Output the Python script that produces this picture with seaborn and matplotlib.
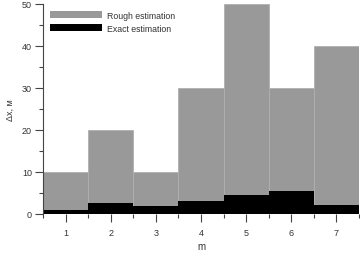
import matplotlib
matplotlib.use("Agg")
import matplotlib.pyplot as plt
import seaborn as sns
import pandas as pd
from matplotlib.patches import Patch
from matplotlib.ticker import MultipleLocator, FixedLocator

m_labels = ["1", "2", "3", "4", "5", "6", "7"]
rough = [10, 20, 10, 30, 50, 30, 40]
exact = [1.0, 2.7, 2.0, 3.1, 4.6, 5.4, 2.2]

sns.set_style("ticks")
plt.rcParams['font.family'] = ['Liberation Sans', 'DejaVu Sans']

df = pd.DataFrame({"m": m_labels, "rough": rough, "exact": exact})

fig = plt.figure(figsize=(3.6, 2.55), dpi=100)
ax = fig.add_axes([43/360, 1-215/255, (359-43)/360, (215-5)/255])

sns.barplot(data=df, x="m", y="rough", color="#999999", saturation=1,
            width=1.0, edgecolor="#b0b0b0", linewidth=0.6, ax=ax)
sns.barplot(data=df, x="m", y="exact", color="#000000", saturation=1,
            width=1.0, linewidth=0, ax=ax)

ax.set_xlim(-0.5, len(m_labels) - 0.5)
ax.set_ylim(0, 50)
ax.yaxis.set_major_locator(MultipleLocator(10))
ax.yaxis.set_minor_locator(MultipleLocator(5))
ax.xaxis.set_minor_locator(FixedLocator([i + 0.5 for i in range(-1, len(m_labels))]))

for s in ["top", "right"]:
    ax.spines[s].set_visible(False)
ax.spines["left"].set_color("#444444")
ax.spines["left"].set_linewidth(0.8)
ax.spines["bottom"].set_visible(False)

ax.tick_params(axis="both", which="major", length=6, width=0.8, color="#444444",
               labelsize=6.5, labelcolor="#333333", pad=2)
ax.tick_params(axis="both", which="minor", length=3, width=0.8, color="#444444")
ax.tick_params(axis="x", which="major", pad=4)

ax.set_xlabel("m", fontsize=7, color="#333333")
ax.set_ylabel("Δx, м", fontsize=6.5, color="#333333")
ax.xaxis.set_label_coords(0.5, -0.13)
ax.yaxis.set_label_coords(-0.09, 0.5)

handles = [Patch(facecolor="#999999", edgecolor="none", label="Rough estimation"),
           Patch(facecolor="#000000", edgecolor="none", label="Exact estimation")]
ax.legend(handles=handles, loc="upper left", bbox_to_anchor=(0.0, 1.0),
          frameon=False, fontsize=6.3, handlelength=6.0, handleheight=1.0,
          handletextpad=0.6, labelspacing=0.45, borderaxespad=0.35,
          labelcolor="#333333")

fig.savefig("out.png", dpi=100)
